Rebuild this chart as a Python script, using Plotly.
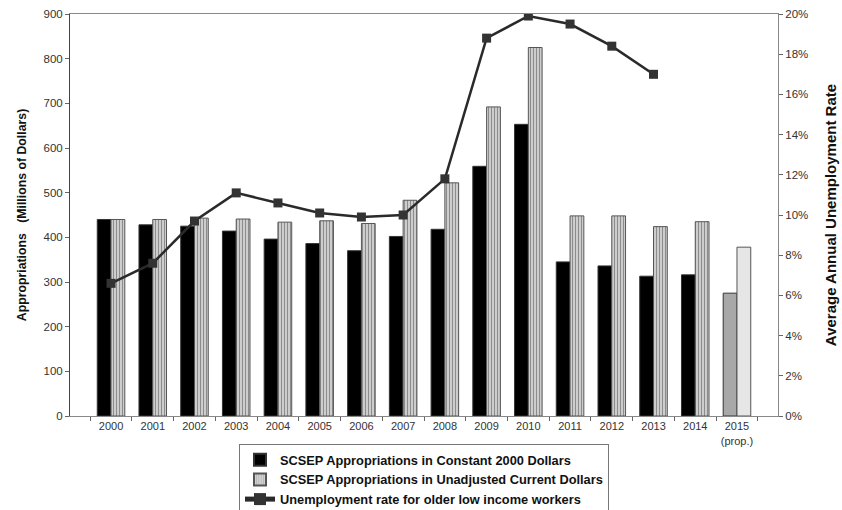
import plotly.graph_objects as go

years = ["2000", "2001", "2002", "2003", "2004", "2005", "2006", "2007",
         "2008", "2009", "2010", "2011", "2012", "2013", "2014", "2015"]
year_labels = years[:-1] + ["2015<br>(prop.)"]

constant_2000 = [440, 428, 425, 414, 396, 386, 370, 402, 418, 559, 653, 345, 336, 313, 316, 275]
unadjusted = [440, 440, 443, 441, 434, 437, 431, 483, 522, 692, 825, 448, 448, 424, 435, 378]
unemployment = [6.6, 7.6, 9.7, 11.1, 10.6, 10.1, 9.9, 10.0, 11.8, 18.8, 19.9, 19.5, 18.4, 17.0, None, None]

black_colors = ["#000000"] * 15 + ["#a8a8a8"]
stripe_shapes = ["|"] * 15 + [""]
stripe_bg = ["#d4d4d4"] * 15 + ["#e6e6e6"]

fig = go.Figure()
fig.add_trace(go.Bar(
    x=years, y=constant_2000, name="SCSEP Appropriations in Constant 2000 Dollars",
    marker=dict(color=black_colors, line=dict(color="#333333", width=1)),
    yaxis="y",
))
fig.add_trace(go.Bar(
    x=years, y=unadjusted, name="SCSEP Appropriations in Unadjusted Current Dollars",
    marker=dict(color=stripe_bg, line=dict(color="#555555", width=1),
                pattern=dict(shape=stripe_shapes, fgcolor="#999999", fillmode="overlay",
                             size=3, solidity=0.4)),
    yaxis="y",
))
fig.add_trace(go.Scatter(
    x=years, y=unemployment, name="Unemployment rate for older low income workers",
    mode="lines+markers", line=dict(color="#2a2a2a", width=2.5),
    marker=dict(symbol="square", size=9, color="#333333"),
    yaxis="y2",
))

font_family = "Liberation Sans, Arial, sans-serif"
fig.update_layout(
    template="none",
    width=842, height=510,
    margin=dict(l=70, r=64, t=14, b=94),
    paper_bgcolor="white", plot_bgcolor="white",
    font=dict(family=font_family, size=11, color="#333333"),
    barmode="group", bargap=0.34, bargroupgap=0,
    showlegend=True,
    legend=dict(
        x=0.5, xanchor="center", xref="paper",
        y=1 - 444 / 510, yanchor="top", yref="container",
        bordercolor="#777777", borderwidth=1, bgcolor="white",
        font=dict(family=font_family, size=12.8, color="#111111", weight="bold"),
        tracegroupgap=0, itemsizing="constant", itemwidth=30,
        traceorder="normal",
    ),
    xaxis=dict(
        type="category", tickmode="array", tickvals=years, ticktext=year_labels,
        showline=True, linecolor="#888888", linewidth=1, mirror=True,
        ticks="outside", ticklen=4, tickcolor="#666666", tickson="boundaries",
        showgrid=False, zeroline=False, tickfont=dict(size=11, color="#333333"),
        automargin=False,
    ),
    yaxis=dict(
        range=[0, 900], dtick=100, showgrid=False, zeroline=False,
        showline=True, linecolor="#444444", linewidth=1,
        ticks="outside", ticklen=4, tickcolor="#666666",
        tickfont=dict(size=11.5, color="#333333"),
        automargin=False,
        title=dict(text="Appropriations   (Millions of Dollars)",
                   font=dict(size=12.3, color="#111111", weight="bold"), standoff=14),
    ),
    yaxis2=dict(
        range=[0, 20], dtick=2, overlaying="y", side="right",
        ticksuffix="%", showgrid=False, zeroline=False,
        showline=True, linecolor="#888888", linewidth=1,
        ticks="outside", ticklen=4, tickcolor="#666666",
        tickfont=dict(size=11.5, color="#333333"),
        automargin=False,
        title=dict(text="Average Annual Unemployment Rate",
                   font=dict(size=15, color="#111111", weight="bold"), standoff=18),
    ),
)

fig.write_html("out.html")
